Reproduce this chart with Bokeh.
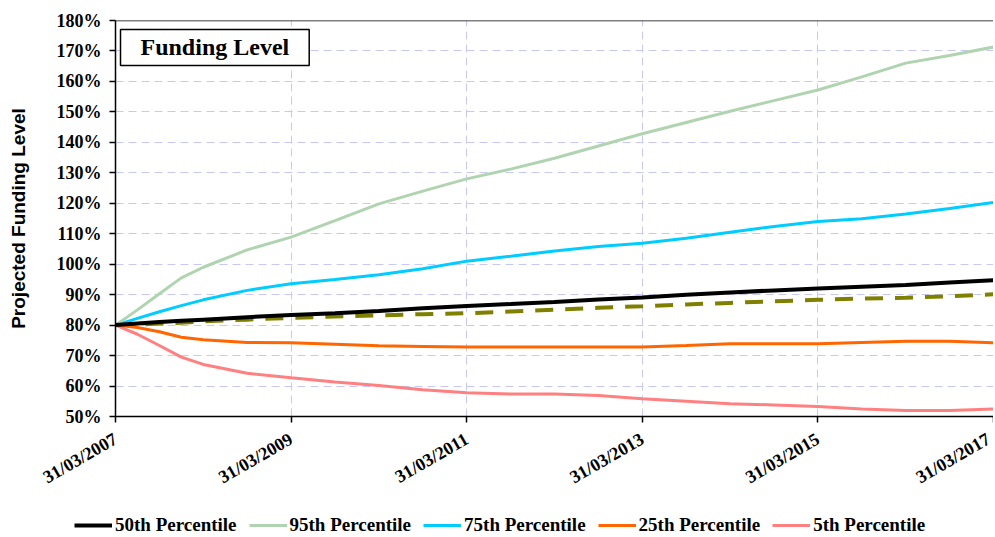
import math
from bokeh.plotting import figure
from bokeh.layouts import column
from bokeh.models import (FixedTicker, PrintfTickFormatter, Legend, LegendItem, Label, Span, Range1d)
from bokeh.embed import file_html
from bokeh.resources import INLINE

# years since 31/03/2007
t = [0, 0.25, 0.5, 0.75, 1, 1.5, 2, 2.5, 3, 3.5, 4, 4.5, 5, 5.5, 6, 6.5, 7, 7.5, 8, 8.5, 9, 9.5, 10]
p50 = [80, 80.5, 81.0, 81.4, 81.8, 82.6, 83.3, 83.9, 84.6, 85.5, 86.3, 86.9, 87.6, 88.4, 89.1, 90.0, 90.7, 91.4, 92.0, 92.6, 93.2, 94.0, 94.7]
p95 = [80, 85.0, 90.3, 95.5, 99.0, 104.7, 108.9, 114.3, 119.8, 124.0, 128.0, 131.2, 134.8, 138.8, 142.8, 146.5, 150.2, 153.7, 157.2, 161.5, 166.0, 168.5, 171.3]
p75 = [80, 82.2, 84.4, 86.4, 88.3, 91.4, 93.6, 95.0, 96.5, 98.5, 101.0, 102.6, 104.3, 105.8, 106.9, 108.5, 110.5, 112.4, 114.0, 114.9, 116.5, 118.3, 120.3]
p25 = [80, 79.2, 77.8, 76.0, 75.2, 74.3, 74.2, 73.7, 73.2, 73.0, 72.8, 72.8, 72.8, 72.8, 72.8, 73.3, 73.9, 73.9, 73.9, 74.3, 74.7, 74.7, 74.2]
p05 = [80, 77.0, 73.3, 69.5, 67.1, 64.2, 62.7, 61.3, 60.2, 58.8, 57.8, 57.4, 57.4, 56.9, 55.8, 55.0, 54.2, 53.8, 53.3, 52.5, 52.0, 52.0, 52.5]
dashed = [80, 80.2, 80.5, 80.8, 81.2, 81.8, 82.4, 82.8, 83.2, 83.6, 83.9, 84.5, 85.1, 85.7, 86.2, 86.8, 87.3, 87.8, 88.3, 88.7, 89.0, 89.5, 90.1]

x_ticks = [2007, 2009, 2011, 2013, 2015, 2017]
x_tick_labels = ["31/03/2007", "31/03/2009", "31/03/2011", "31/03/2013", "31/03/2015", "31/03/2017"]
y_ticks = list(range(50, 190, 10))

series_names = ["50th Percentile", "95th Percentile", "75th Percentile", "25th Percentile", "5th Percentile"]
series_values = [p50, p95, p75, p25, p05]
series_colors = ["black", "#b0d4b0", "#00ccff", "#ff6600", "#ff8080"]
series_widths = [4, 3, 3, 3, 3]

x = [2007 + v for v in t]

SERIF = "Liberation Serif"

p = figure(width=993, height=498, output_backend="svg", toolbar_location=None,
           x_range=Range1d(2007, 2017), y_range=Range1d(50, 180),
           min_border_left=115, min_border_top=20, min_border_right=0, min_border_bottom=82)
p.outline_line_color = None
p.background_fill_color = "white"

p.xaxis.ticker = FixedTicker(ticks=x_ticks)
p.xaxis.major_label_overrides = {k: v for k, v in zip(x_ticks, x_tick_labels)}
p.xaxis.major_label_orientation = math.pi / 6
p.yaxis.ticker = FixedTicker(ticks=y_ticks)
p.yaxis.formatter = PrintfTickFormatter(format="%d%%")
for ax in (p.xaxis[0], p.yaxis[0]):
    ax.major_label_text_font = SERIF
    ax.major_label_text_font_style = "bold"
    ax.major_label_text_font_size = "18px"
    ax.major_label_text_color = "black"
    ax.axis_line_color = "black"
    ax.axis_line_width = 1.5
    ax.major_tick_line_color = "black"
    ax.major_tick_line_width = 1.5
    ax.major_tick_in = 0
    ax.major_tick_out = 6
    ax.minor_tick_line_color = None
p.yaxis.major_label_standoff = 8
p.xaxis.major_label_standoff = 15
p.yaxis.axis_label = "Projected Funding Level"
p.yaxis.axis_label_text_font = "Liberation Sans"
p.yaxis.axis_label_text_font_style = "bold"
p.yaxis.axis_label_text_font_size = "19px"
p.yaxis.axis_label_text_color = "black"
p.yaxis.axis_label_standoff = 25

for g in (p.xgrid[0], p.ygrid[0]):
    g.grid_line_color = "#c8c8f8"
    g.grid_line_dash = "8 5"
    g.grid_line_width = 1

p.add_layout(Span(location=180, dimension="width", line_color="black", line_width=1.5))

p.line(x, dashed, line_color="#808000", line_width=4, line_dash="18 12")
for vals, col, w in list(zip(series_values, series_colors, series_widths))[::-1]:
    p.line(x, vals, line_color=col, line_width=w)

p.add_layout(Label(x=2007.057, y=177.05, text="Funding Level", text_font=SERIF,
                   text_font_style="bold", text_font_size="24px", text_color="black",
                   text_align="left", text_baseline="top",
                   border_line_color="black", border_line_width=1.5,
                   background_fill_color="white", padding=dict(left=20, right=20, top=5, bottom=5)))

# legend strip underneath the chart
lg = figure(width=993, height=38, output_backend="svg", toolbar_location=None,
            x_range=Range1d(0, 1), y_range=Range1d(0, 1),
            x_axis_location=None, y_axis_location=None,
            min_border_left=0, min_border_right=0, min_border_top=0, min_border_bottom=0)
try:
    lg.frame_align = False
except Exception:
    pass
lg.outline_line_color = None
lg.grid.visible = False
items = []
for name, col, w in zip(series_names, series_colors, series_widths):
    r = lg.line([float("nan")], [float("nan")], line_color=col, line_width=w)
    items.append(LegendItem(label=name, renderers=[r]))
legend = Legend(items=items, orientation="horizontal", location=(74, 0),
                label_text_font=SERIF, label_text_font_style="bold", label_text_font_size="19px",
                label_text_color="black",
                glyph_width=38, glyph_height=16, label_standoff=3, spacing=12,
                border_line_color=None, background_fill_alpha=0, padding=0, margin=0)
lg.add_layout(legend, "center")

open("out.html", "w").write(file_html(column(p, lg), INLINE))
